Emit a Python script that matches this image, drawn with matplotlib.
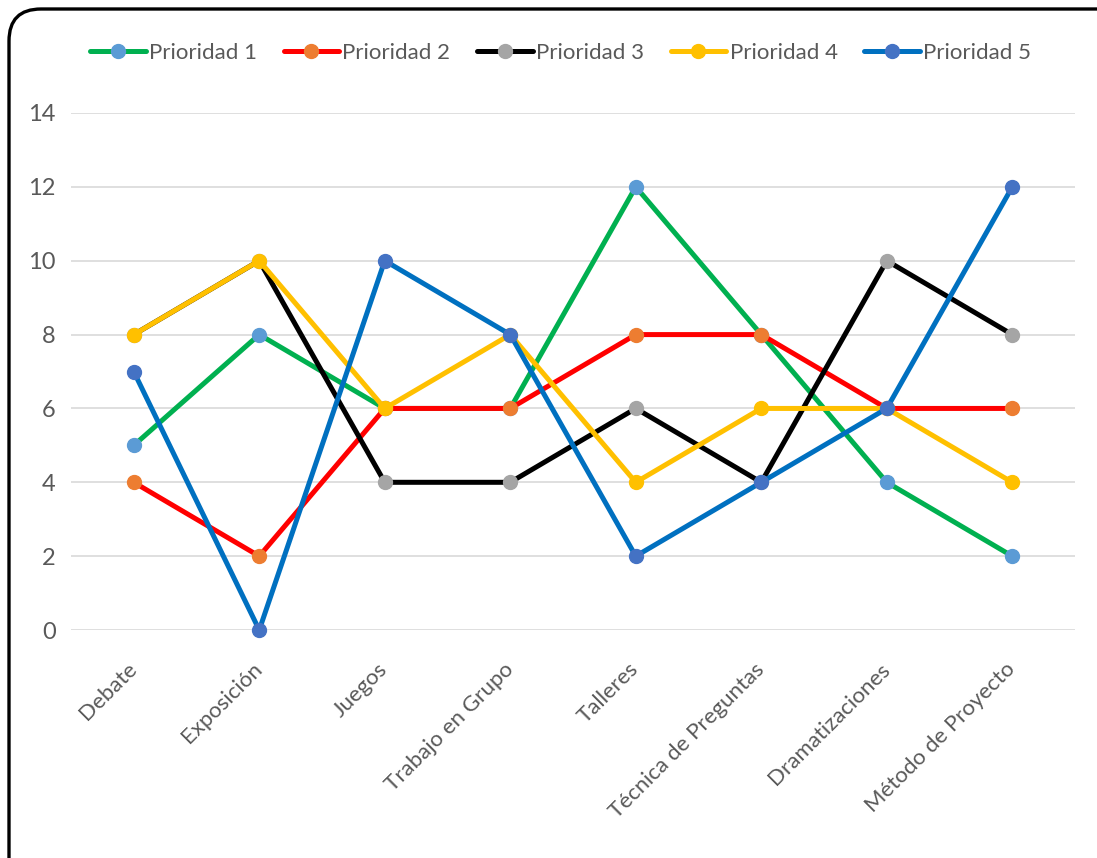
import matplotlib.pyplot as plt
from matplotlib.patches import FancyBboxPatch

categorias = ["Debate", "Exposición", "Juegos", "Trabajo en Grupo", "Talleres",
              "Técnica de Preguntas", "Dramatizaciones", "Método de Proyecto"]

prioridad_1 = [5, 8, 6, 6, 12, 8, 4, 2]
prioridad_2 = [4, 2, 6, 6, 8, 8, 6, 6]
prioridad_3 = [8, 10, 4, 4, 6, 4, 10, 8]
prioridad_4 = [8, 10, 6, 8, 4, 6, 6, 4]
prioridad_5 = [7, 0, 10, 8, 2, 4, 6, 12]

nombres = ["Prioridad 1", "Prioridad 2", "Prioridad 3", "Prioridad 4", "Prioridad 5"]
series = [prioridad_1, prioridad_2, prioridad_3, prioridad_4, prioridad_5]
y_ticks = [0, 2, 4, 6, 8, 10, 12, 14]

# line colour, marker colour
colores = [("#00B050", "#5B9BD5"),
           ("#FF0000", "#ED7D31"),
           ("#000000", "#A5A5A5"),
           ("#FFC000", "#FFC000"),
           ("#0070C0", "#4472C4")]

plt.rcParams['font.family'] = ['Lato', 'DejaVu Sans']
texto = "#595959"

fig = plt.figure(figsize=(10.97, 8.58), dpi=100)
ax = fig.add_axes([0.0647, 0.2657, 0.9153, 0.6026])

x = list(range(len(categorias)))
for nombre, vals, (lc, mc) in zip(nombres, series, colores):
    ax.plot(x, vals, color=lc, lw=3.6, marker="o", markersize=10,
            markerfacecolor=mc, markeredgecolor=mc, label=nombre,
            solid_capstyle="round", clip_on=False)

ax.set_xlim(-0.5, len(categorias) - 0.5)
ax.set_ylim(0, 14)
ax.set_yticks(y_ticks)
ax.set_xticks(x)
ax.set_xticklabels(categorias, rotation=45, ha="right", va="center",
                   rotation_mode="anchor", fontsize=16)
ax.tick_params(axis="both", length=0, labelsize=17, labelcolor=texto)
ax.tick_params(axis="x", pad=26, labelsize=16)
ax.tick_params(axis="y", pad=11)
ax.grid(axis="y", color="#D9D9D9", lw=1.2)
ax.set_axisbelow(True)
for s in ax.spines.values():
    s.set_visible(False)
ax.patch.set_alpha(0)

leg = fig.legend(loc="center", bbox_to_anchor=(0.511, 0.938), ncol=5,
                 frameon=False, fontsize=16, handlelength=2.5,
                 handletextpad=0.15, columnspacing=1.2)
for t in leg.get_texts():
    t.set_color(texto)

# rounded frame in pixel coords (runs off the right and bottom edges)
borde = FancyBboxPatch((9, -40), 1130, 889, boxstyle="round,pad=0,rounding_size=32",
                       transform=None, fill=False, edgecolor="black", lw=2.4)
fig.patches.append(borde)

fig.savefig("out.png", dpi=100)
